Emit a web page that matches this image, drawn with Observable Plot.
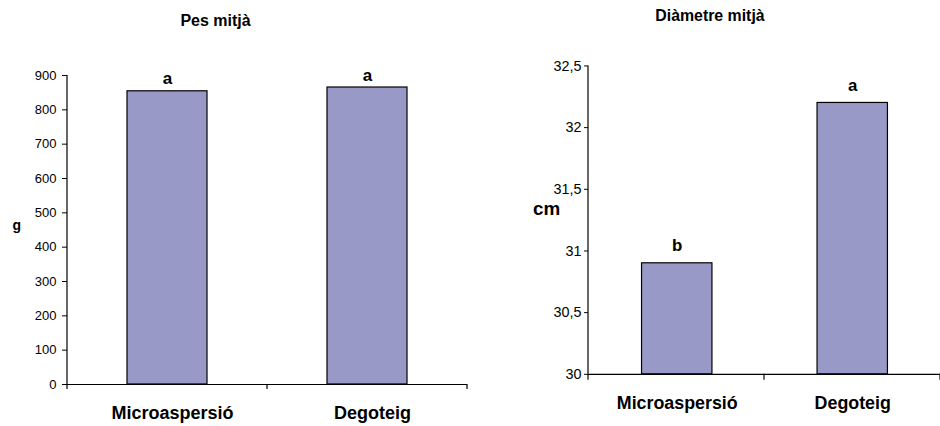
<!DOCTYPE html>
<html>
<head>
<meta charset="utf-8">
<script src="https://cdn.jsdelivr.net/npm/d3@7"></script>
<script src="https://cdn.jsdelivr.net/npm/@observablehq/plot@0.6"></script>
<style>
  html, body { margin: 0; padding: 0; background: #fff; overflow: hidden; }
  #wrap { position: relative; width: 940px; height: 426px; overflow: hidden; }
  #left { position: absolute; left: 0; top: 0; }
  #right { position: absolute; left: 470px; top: 0; }
</style>
</head>
<body>
<div id="wrap"><div id="left"></div><div id="right"></div></div>
<script>
// ---- data ----
const categories = ["Microaspersió", "Degoteig"];

const pesTitle = "Pes mitjà";
const pesUnit = "g";
const pesValues = [854, 865];
const pesLetters = ["a", "a"];
const pesTicks = [0, 100, 200, 300, 400, 500, 600, 700, 800, 900];

const diamTitle = "Diàmetre mitjà";
const diamUnit = "cm";
const diamValues = [30.9, 32.2];
const diamLetters = ["b", "a"];
const diamTicks = [30, 30.5, 31, 31.5, 32, 32.5];

// ---- styling ----
const font = "'Liberation Sans', Arial, Helvetica, sans-serif";
const barFill = "#9999c8";

const pesData = categories.map((c, i) => ({cat: c, value: pesValues[i], letter: pesLetters[i]}));
const diamData = categories.map((c, i) => ({cat: c, value: diamValues[i], letter: diamLetters[i]}));

// y-axis line + category boundary ticks on the x baseline
function axisLines(n, tickLen) {
  return (index, scales, values, dimensions) => {
    const {width, height, marginLeft, marginRight, marginTop, marginBottom} = dimensions;
    const x0 = marginLeft, x1 = width - marginRight, yb = height - marginBottom;
    const g = d3.create("svg:g").attr("stroke", "#000").attr("stroke-width", 1.2).attr("fill", "none");
    g.append("line").attr("x1", x0).attr("x2", x0).attr("y1", marginTop).attr("y2", yb);
    const step = (x1 - x0) / n;
    for (let i = 0; i <= n; i++) {
      const xx = x0 + i * step;
      g.append("line").attr("x1", xx).attr("x2", xx).attr("y1", yb).attr("y2", yb + tickLen);
    }
    return g.node();
  };
}

const left = Plot.plot({
  width: 470, height: 426,
  marginLeft: 67, marginRight: 3, marginTop: 75, marginBottom: 42,
  style: {fontFamily: font, fontSize: "13px", color: "#000", background: "transparent", overflow: "visible"},
  x: {domain: categories, paddingInner: 0.6, paddingOuter: 0.3, axis: null},
  y: {domain: [0, 900], ticks: pesTicks, tickSize: 5, tickPadding: 6, label: null, tickFormat: d => String(d)},
  marks: [
    Plot.barY(pesData, {x: "cat", y: "value", fill: barFill, stroke: "#000", strokeWidth: 1.2}),
    Plot.ruleY([0], {stroke: "#000", strokeWidth: 1.2}),
    axisLines(categories.length, 5),
    Plot.text(pesData, {x: "cat", y: "value", text: "letter", lineAnchor: "bottom", dy: -7, fontSize: 17, fontWeight: "bold", fill: "#000"}),
    Plot.text(pesData, {x: "cat", text: "cat", frameAnchor: "bottom", dy: 34, dx: 5, fontSize: 18, fontWeight: "bold", fill: "#000"}),
    Plot.text([pesUnit], {text: d => d, frameAnchor: "left", dx: -55, dy: -4, fontSize: 14, fontWeight: "bold", fill: "#000"}),
    Plot.text([pesTitle], {text: d => d, frameAnchor: "top", dx: -52, dy: -50, lineAnchor: "bottom", fontSize: 16, fontWeight: "bold", fill: "#000"})
  ]
});
document.getElementById("left").appendChild(left);

const right = Plot.plot({
  width: 474, height: 426,
  marginLeft: 119, marginRight: 0, marginTop: 66, marginBottom: 49,
  style: {fontFamily: font, fontSize: "14.5px", color: "#000", background: "transparent", overflow: "visible"},
  x: {domain: categories, paddingInner: 0.6, paddingOuter: 0.3, axis: null},
  y: {domain: [diamTicks[0], diamTicks[diamTicks.length - 1]], ticks: diamTicks, tickSize: 4, tickPadding: 3, label: null,
      tickFormat: d => String(d).replace(".", ",")},
  marks: [
    Plot.barY(diamData, {x: "cat", y1: diamTicks[0], y2: "value", fill: barFill, stroke: "#000", strokeWidth: 1.2}),
    Plot.ruleY([diamTicks[0]], {stroke: "#000", strokeWidth: 1.2}),
    axisLines(categories.length, 6),
    Plot.text(diamData, {x: "cat", y: "value", text: "letter", lineAnchor: "bottom", dy: -12, fontSize: 17, fontWeight: "bold", fill: "#000"}),
    Plot.text(diamData, {x: "cat", text: "cat", frameAnchor: "bottom", dy: 35, fontSize: 18, fontWeight: "bold", fill: "#000"}),
    Plot.text([diamUnit], {text: d => d, frameAnchor: "left", dx: -56, dy: -11, fontSize: 19, fontWeight: "bold", fill: "#000"}),
    Plot.text([diamTitle], {text: d => d, frameAnchor: "top", dx: -55, dy: -45, lineAnchor: "bottom", fontSize: 16, fontWeight: "bold", fill: "#000"})
  ]
});
document.getElementById("right").appendChild(right);
</script>
</body>
</html>
